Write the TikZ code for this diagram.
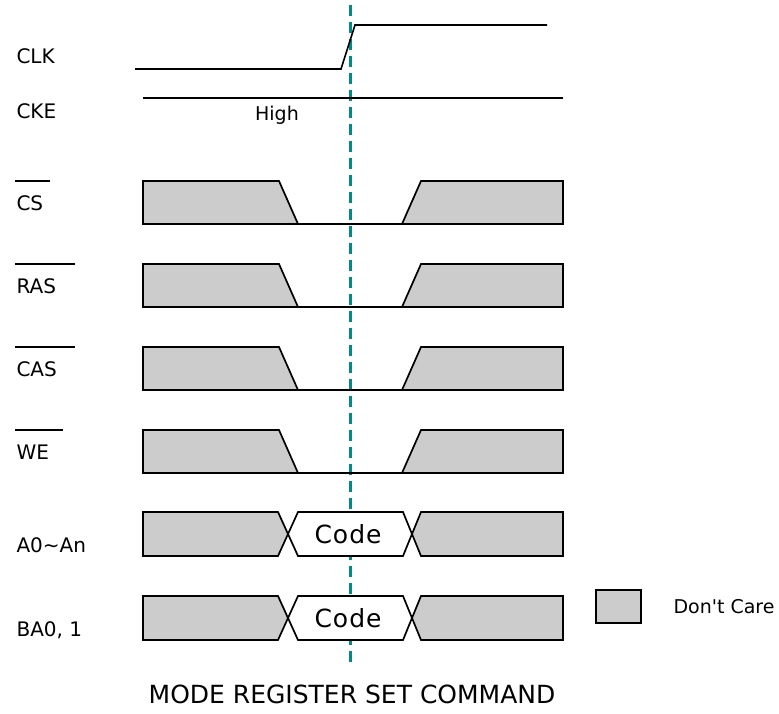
\documentclass[tikz,border=0pt]{standalone}
\usepackage{fontspec}
\setmainfont{DejaVu Sans}[Ligatures=TeXOff]
\definecolor{cursor}{RGB}{0,138,138}
\definecolor{care}{RGB}{204,204,204}
\tikzset{
  wave/.style={line width=1.6pt,black},
  dontcare/.style={draw=black,line width=1.7pt,fill=care,line join=miter},
  sig/.style={anchor=base west,font=\fontsize{20}{24}\selectfont},
}

\begin{document}
\begin{tikzpicture}[x=1pt,y=-1pt]
                    \useasboundingbox (0,0) rectangle (779,713);

                    % command edge
                    \draw[cursor,line width=3pt,dash pattern=on 11pt off 6pt] (350,5) -- (350,667);

                    % clock and clock enable
                    \node[sig] (clk) at (13,63) {CLK};
                    \node[sig] (cke) at (13,118) {CKE};
                    \draw[wave] (135,69) -- (341,69) -- (355,25) -- (547,25);
                    \draw[wave] (143,98) -- (563,98);
                    \node[font=\fontsize{19}{22}\selectfont] (high) at (277,115) {High};

                    % active low command lines
                    \foreach \t/\name/\len in {181/CS/35,264/RAS/60,347/CAS/60,430/WE/48}
                    {\node[sig] (\name) at (13,\t+29) {\name};
                     \draw[line width=1.4pt] (15,\t) -- ++(\len,0);
                     \draw[dontcare] (143,\t) -- (279,\t) -- (298,\t+43) -- (143,\t+43) -- cycle;
                     \draw[dontcare] (421,\t) -- (563,\t) -- (563,\t+43) -- (402,\t+43) -- cycle;
                     \draw[wave] (298,\t+43) -- (402,\t+43);}

                    % address and bank lines
                    \foreach \t/\name/\lbl in {512/addr/A0\textasciitilde An,596/bank/{BA0, 1}}
                    {\node[sig] (\name) at (13,\t+40) {\lbl};
                     \draw[dontcare] (143,\t) -- (278,\t) -- (288,\t+22) -- (278,\t+44) -- (143,\t+44) -- cycle;
                     \draw[wave,line width=1.7pt,fill=white] (298,\t) -- (403,\t) -- (412,\t+22) -- (403,\t+44) -- (298,\t+44) -- (288,\t+22) -- cycle;
                     \draw[dontcare] (421,\t) -- (563,\t) -- (563,\t+44) -- (421,\t+44) -- (412,\t+22) -- cycle;
                     \node[font=\fontsize{25}{30}\selectfont] (code\name) at (348,\t+22) {C\kern1pt o\kern1pt d\kern1pt e};}

                    % legend
                    \draw[dontcare] (596,590) rectangle (641,623);
                    \node[anchor=west,font=\fontsize{19}{22}\selectfont] (legend) at (670,607) {Don't Care};

                    \node[font=\fontsize{25}{30}\selectfont] (title) at (352,694) {MODE REGISTER SET COMMAND};
                \end{tikzpicture}
\end{document}
